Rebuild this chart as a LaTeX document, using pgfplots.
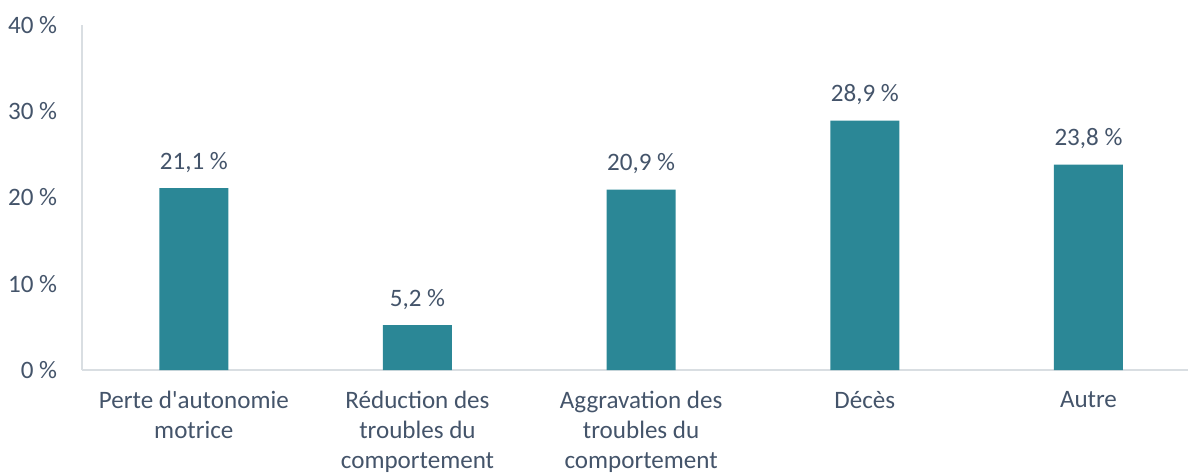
\documentclass[border=0pt]{standalone}
\usepackage{fontspec}
\setmainfont{Carlito}
\usepackage{pgfplots}
\pgfplotsset{compat=1.18}
\definecolor{barc}{HTML}{2B8796}
\definecolor{txt}{HTML}{44546A}
\definecolor{axc}{HTML}{D9DEE2}
\begin{document}
\begin{tikzpicture}
\begin{axis}[
  scale only axis, width=829.5pt, height=258.75pt,
  xmin=-0.5, xmax=4.445, ymin=0, ymax=40,
  axis lines=left, axis line style={axc, line width=1.2pt, -},
  ybar, bar width=51.75pt,
  /pgf/number format/assume math mode=true,
  ytick={0,10,20,30,40}, yticklabels={0 \%,10 \%,20 \%,30 \%,40 \%},
  xtick={0,1,2,3,4},
  xticklabels={Perte d\textquotesingle autonomie\\motrice, Réduction des\\troubles du\\comportement, Aggravation des\\troubles du\\comportement, Décès, Autre},
  major tick length=0pt,
  tick label style={font=\fontsize{18.8}{22.5}\selectfont, text=txt},
  x tick label style={align=center, anchor=north, inner sep=0pt, yshift=-15.5pt},
  y tick label style={anchor=east, inner sep=0pt, xshift=-18.5pt},
  nodes near coords={\pgfmathprintnumber[fixed,fixed zerofill,precision=1,use comma]{\pgfplotspointmeta}~\%},
  nodes near coords style={font=\fontsize{18.8}{22.5}\selectfont, text=txt, anchor=base, inner sep=0pt, yshift=14.25pt},
  clip=false,
]
\addplot[fill=barc, draw=none] coordinates {(0,21.1) (1,5.2) (2,20.9) (3,28.9) (4,23.8)};
\coordinate (O) at (axis cs:-0.5,0);
\end{axis}
\pgfresetboundingbox
\path (O) ++(-61.5pt,-78.75pt) rectangle ++(891pt,356.25pt);
\end{tikzpicture}
\end{document}
